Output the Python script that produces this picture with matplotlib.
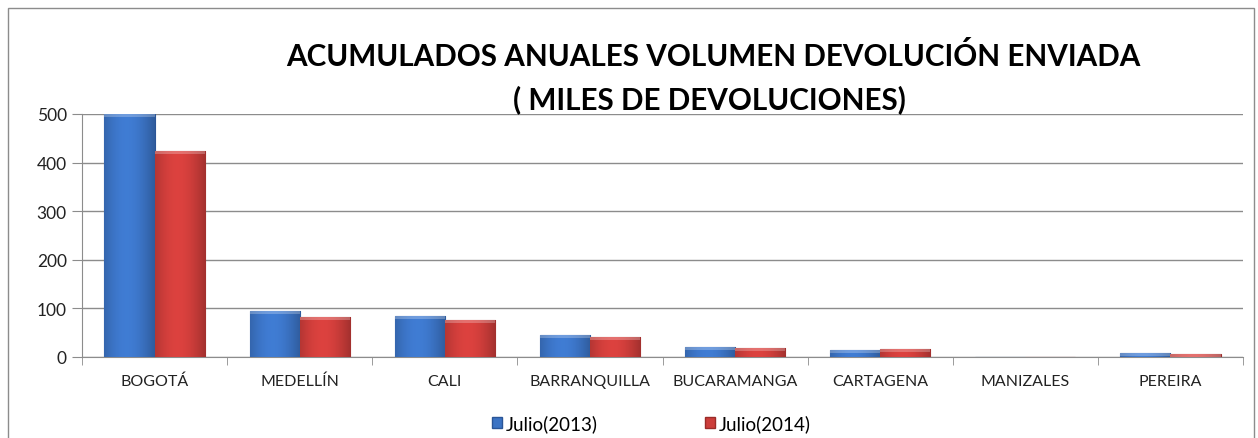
import matplotlib
matplotlib.use("Agg")
import matplotlib.pyplot as plt
import matplotlib.patches as patches
import numpy as np

cities = ["BOGOTÁ", "MEDELLÍN", "CALI", "BARRANQUILLA", "BUCARAMANGA",
          "CARTAGENA", "MANIZALES", "PEREIRA"]
julio_2013 = [500, 95, 84, 45, 21, 14, 0.5, 8]
julio_2014 = [424, 82, 76, 41, 19, 17, 0.4, 6]
series_labels = ["Julio(2013)", "Julio(2014)"]
y_ticks = [0, 100, 200, 300, 400, 500]

plt.rcParams['font.family'] = ['Lato', 'DejaVu Sans']

fig = plt.figure(figsize=(12.58, 4.39), dpi=100)
ax = fig.add_axes([82 / 1258, 1 - 358 / 439, (1243 - 82) / 1258, (358 - 115) / 439])

x = np.arange(len(cities))
w = 0.345


def shaded_bars(xs, vals, base, dark):
    bars = ax.bar(xs, vals, w, color=base, edgecolor=dark, linewidth=0.8, zorder=3)
    # horizontal gradient to mimic the bevelled Excel bars
    grad = np.linspace(0, 1, 64)
    shade = 0.8 + 0.28 * np.sin(np.pi * (grad * 0.9 + 0.1))
    rgb = np.array(matplotlib.colors.to_rgb(base))
    img = np.clip(rgb[None, :] * shade[:, None], 0, 1)[None, :, :]
    for b in bars:
        bx, by = b.get_x(), b.get_y()
        bw, bh = b.get_width(), b.get_height()
        if bh <= 0:
            continue
        im = ax.imshow(img, extent=[bx, bx + bw, by, by + bh], aspect='auto',
                       zorder=3.5, interpolation='bilinear')
        im.set_clip_path(b)
        # lighter top cap
        cap = min(bh, 6.0)
        ax.add_patch(patches.Rectangle((bx, by + bh - cap), bw, cap,
                                       facecolor='white', alpha=0.25,
                                       edgecolor='none', zorder=3.6))
    return bars


b1 = shaded_bars(x - w / 2, julio_2013, '#3b73c4', '#2a5597')
b2 = shaded_bars(x + w / 2, julio_2014, '#cc3d3a', '#9a2b28')

ax.set_xlim(-0.5, len(cities) - 0.5)
ax.set_ylim(0, 500)
ax.set_yticks(y_ticks)
ax.tick_params(axis='y', labelsize=12.5, length=7, color='#8c8c8c', pad=4, labelcolor='#222222')
ax.set_xticks(x)
ax.set_xticklabels(cities)
ax.set_xticks(np.arange(-0.5, len(cities), 1), minor=True)
ax.tick_params(axis='x', which='major', length=0, labelsize=11.5, pad=12, labelcolor='#222222')
ax.tick_params(axis='x', which='minor', length=6, color='#8c8c8c')
ax.grid(axis='y', color='#8c8c8c', linewidth=1, zorder=0)
for s in ['top', 'right']:
    ax.spines[s].set_visible(False)
for s in ['left', 'bottom']:
    ax.spines[s].set_color('#8c8c8c')

fig.text(0.567, 1 - 57 / 439, "ACUMULADOS ANUALES VOLUMEN DEVOLUCIÓN ENVIADA",
         ha='center', va='center', fontsize=21.3, fontweight='bold')
fig.text(0.564, 1 - 100 / 439, "( MILES DE DEVOLUCIONES)",
         ha='center', va='center', fontsize=21.3, fontweight='bold')

handles = [patches.Patch(facecolor='#3b73c4', edgecolor='#2a5597'),
           patches.Patch(facecolor='#cc3d3a', edgecolor='#9a2b28')]
fig.legend(handles, series_labels, loc='center', bbox_to_anchor=(0.518, 1 - 424 / 439),
           ncol=2, frameon=False, fontsize=13.5, handlelength=0.55, handleheight=0.55,
           handletextpad=0.2, columnspacing=5.7)

fig.add_artist(patches.Rectangle((8 / 1258, -0.05), (1254 - 8) / 1258, 1.05 - 9 / 439,
                                 transform=fig.transFigure, fill=False,
                                 edgecolor='#8c8c8c', linewidth=1))

fig.savefig("out.png", dpi=100)
